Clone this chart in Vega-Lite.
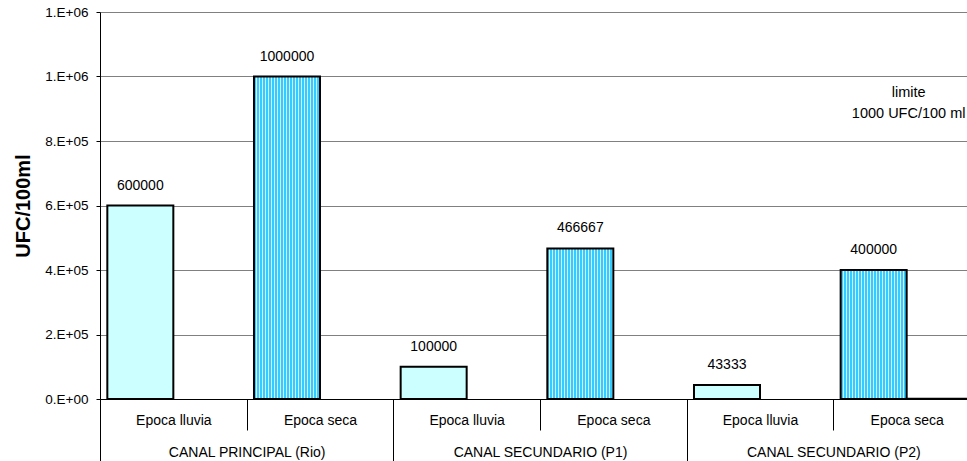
{
  "$schema": "https://vega.github.io/schema/vega-lite/v6.json",
  "autosize": "none",
  "width": 867,
  "height": 387,
  "padding": {"left": 100, "top": 12, "right": 0, "bottom": 62},
  "background": "white",
  "config": {
    "font": "Liberation Sans",
    "view": {"stroke": null},
    "axis": {"labelFont": "Liberation Sans", "titleFont": "Liberation Sans", "labelColor": "black", "titleColor": "black"}
  },
  "datasets": {
    "bars": [
      {"group": "CANAL PRINCIPAL (Rio)", "season": "Epoca lluvia", "sub": "CANAL PRINCIPAL (Rio)|Epoca lluvia", "series": "valor", "value": 600000},
      {"group": "CANAL PRINCIPAL (Rio)", "season": "Epoca seca", "sub": "CANAL PRINCIPAL (Rio)|Epoca seca", "series": "valor", "value": 1000000},
      {"group": "CANAL SECUNDARIO (P1)", "season": "Epoca lluvia", "sub": "CANAL SECUNDARIO (P1)|Epoca lluvia", "series": "valor", "value": 100000},
      {"group": "CANAL SECUNDARIO (P1)", "season": "Epoca seca", "sub": "CANAL SECUNDARIO (P1)|Epoca seca", "series": "valor", "value": 466667},
      {"group": "CANAL SECUNDARIO (P2)", "season": "Epoca lluvia", "sub": "CANAL SECUNDARIO (P2)|Epoca lluvia", "series": "valor", "value": 43333},
      {"group": "CANAL SECUNDARIO (P2)", "season": "Epoca seca", "sub": "CANAL SECUNDARIO (P2)|Epoca seca", "series": "valor", "value": 400000},
      {"group": "CANAL SECUNDARIO (P2)", "season": "Epoca seca", "sub": "CANAL SECUNDARIO (P2)|Epoca seca", "series": "limite", "value": 1000}
    ],
    "note": [
      {"sub": "CANAL SECUNDARIO (P2)|Epoca seca", "value": 937000, "line1": "limite", "line2": "1000 UFC/100 ml"}
    ],
    "groups": [
      {"group": "CANAL PRINCIPAL (Rio)"},
      {"group": "CANAL SECUNDARIO (P1)"},
      {"group": "CANAL SECUNDARIO (P2)"}
    ]
  },
  "layer": [
    {
      "encoding": {
        "x": {
          "field": "sub", "type": "nominal", "sort": null,
          "scale": {"type": "band", "paddingInner": 0, "paddingOuter": 0, "range": [0, 880]},
          "axis": {
            "orient": "bottom", "title": null, "labelAngle": 0, "tickBand": "extent",
            "tickSize": 31, "tickColor": "black", "domainColor": "black", "domainWidth": 1,
            "labelPadding": -17, "labelFontSize": 14, "labelBaseline": "top",
            "labelExpr": "split(datum.value, '|')[1]", "grid": false
          }
        },
        "y": {
          "field": "value", "type": "quantitative", "title": "UFC/100ml",
          "scale": {"domain": [0, 1200000], "nice": false, "zero": true},
          "axis": {
            "values": [0, 200000, 400000, 600000, 800000, 1000000, 1200000],
            "labelExpr": "datum.value == 0 ? '0.E+00' : (datum.value >= 1000000 ? '1.E+06' : (datum.value / 100000) + '.E+05')",
            "labelFontSize": 13.5, "labelPadding": 8, "tickSize": 4, "tickColor": "black",
            "domainColor": "black", "domainWidth": 1,
            "grid": true, "gridColor": "#808080", "gridWidth": 1,
            "titleFontSize": 20, "titleFontWeight": "bold", "titlePadding": 11
          }
        }
      },
      "layer": [
        {
          "data": {"name": "bars"},
          "mark": {"type": "bar", "stroke": "black", "strokeWidth": 2},
          "encoding": {
            "xOffset": {
              "field": "series", "type": "nominal",
              "scale": {"domain": ["valor", "limite"], "paddingInner": 0, "paddingOuter": 0.111}
            },
            "fill": {
              "condition": {
                "test": "datum.season === 'Epoca seca'",
                "value": {
                  "gradient": "linear", "x1": 0, "x2": 1, "y1": 0, "y2": 0,
                  "stops": [
                    {"offset": 0, "color": "#33CCFF"}, {"offset": 0.0303, "color": "#33CCFF"}, {"offset": 0.0303, "color": "#D4F2FF"}, {"offset": 0.04545, "color": "#D4F2FF"},
                    {"offset": 0.04545, "color": "#33CCFF"}, {"offset": 0.07576, "color": "#33CCFF"}, {"offset": 0.07576, "color": "#D4F2FF"}, {"offset": 0.09091, "color": "#D4F2FF"},
                    {"offset": 0.09091, "color": "#33CCFF"}, {"offset": 0.12121, "color": "#33CCFF"}, {"offset": 0.12121, "color": "#D4F2FF"}, {"offset": 0.13636, "color": "#D4F2FF"},
                    {"offset": 0.13636, "color": "#33CCFF"}, {"offset": 0.16667, "color": "#33CCFF"}, {"offset": 0.16667, "color": "#D4F2FF"}, {"offset": 0.18182, "color": "#D4F2FF"},
                    {"offset": 0.18182, "color": "#33CCFF"}, {"offset": 0.21212, "color": "#33CCFF"}, {"offset": 0.21212, "color": "#D4F2FF"}, {"offset": 0.22727, "color": "#D4F2FF"},
                    {"offset": 0.22727, "color": "#33CCFF"}, {"offset": 0.25758, "color": "#33CCFF"}, {"offset": 0.25758, "color": "#D4F2FF"}, {"offset": 0.27273, "color": "#D4F2FF"},
                    {"offset": 0.27273, "color": "#33CCFF"}, {"offset": 0.30303, "color": "#33CCFF"}, {"offset": 0.30303, "color": "#D4F2FF"}, {"offset": 0.31818, "color": "#D4F2FF"},
                    {"offset": 0.31818, "color": "#33CCFF"}, {"offset": 0.34848, "color": "#33CCFF"}, {"offset": 0.34848, "color": "#D4F2FF"}, {"offset": 0.36364, "color": "#D4F2FF"},
                    {"offset": 0.36364, "color": "#33CCFF"}, {"offset": 0.39394, "color": "#33CCFF"}, {"offset": 0.39394, "color": "#D4F2FF"}, {"offset": 0.40909, "color": "#D4F2FF"},
                    {"offset": 0.40909, "color": "#33CCFF"}, {"offset": 0.43939, "color": "#33CCFF"}, {"offset": 0.43939, "color": "#D4F2FF"}, {"offset": 0.45455, "color": "#D4F2FF"},
                    {"offset": 0.45455, "color": "#33CCFF"}, {"offset": 0.48485, "color": "#33CCFF"}, {"offset": 0.48485, "color": "#D4F2FF"}, {"offset": 0.5, "color": "#D4F2FF"},
                    {"offset": 0.5, "color": "#33CCFF"}, {"offset": 0.5303, "color": "#33CCFF"}, {"offset": 0.5303, "color": "#D4F2FF"}, {"offset": 0.54545, "color": "#D4F2FF"},
                    {"offset": 0.54545, "color": "#33CCFF"}, {"offset": 0.57576, "color": "#33CCFF"}, {"offset": 0.57576, "color": "#D4F2FF"}, {"offset": 0.59091, "color": "#D4F2FF"},
                    {"offset": 0.59091, "color": "#33CCFF"}, {"offset": 0.62121, "color": "#33CCFF"}, {"offset": 0.62121, "color": "#D4F2FF"}, {"offset": 0.63636, "color": "#D4F2FF"},
                    {"offset": 0.63636, "color": "#33CCFF"}, {"offset": 0.66667, "color": "#33CCFF"}, {"offset": 0.66667, "color": "#D4F2FF"}, {"offset": 0.68182, "color": "#D4F2FF"},
                    {"offset": 0.68182, "color": "#33CCFF"}, {"offset": 0.71212, "color": "#33CCFF"}, {"offset": 0.71212, "color": "#D4F2FF"}, {"offset": 0.72727, "color": "#D4F2FF"},
                    {"offset": 0.72727, "color": "#33CCFF"}, {"offset": 0.75758, "color": "#33CCFF"}, {"offset": 0.75758, "color": "#D4F2FF"}, {"offset": 0.77273, "color": "#D4F2FF"},
                    {"offset": 0.77273, "color": "#33CCFF"}, {"offset": 0.80303, "color": "#33CCFF"}, {"offset": 0.80303, "color": "#D4F2FF"}, {"offset": 0.81818, "color": "#D4F2FF"},
                    {"offset": 0.81818, "color": "#33CCFF"}, {"offset": 0.84848, "color": "#33CCFF"}, {"offset": 0.84848, "color": "#D4F2FF"}, {"offset": 0.86364, "color": "#D4F2FF"},
                    {"offset": 0.86364, "color": "#33CCFF"}, {"offset": 0.89394, "color": "#33CCFF"}, {"offset": 0.89394, "color": "#D4F2FF"}, {"offset": 0.90909, "color": "#D4F2FF"},
                    {"offset": 0.90909, "color": "#33CCFF"}, {"offset": 0.93939, "color": "#33CCFF"}, {"offset": 0.93939, "color": "#D4F2FF"}, {"offset": 0.95455, "color": "#D4F2FF"},
                    {"offset": 0.95455, "color": "#33CCFF"}, {"offset": 0.98485, "color": "#33CCFF"}, {"offset": 0.98485, "color": "#D4F2FF"}, {"offset": 1, "color": "#D4F2FF"}
                  ]
                }
              },
              "value": "#CCFFFF"
            }
          }
        },
        {
          "data": {"name": "bars"},
          "transform": [{"filter": "datum.series === 'valor'"}],
          "mark": {"type": "text", "fontSize": 14, "dy": -16, "baseline": "alphabetic", "color": "black"},
          "encoding": {
            "xOffset": {
              "field": "series", "type": "nominal",
              "scale": {"domain": ["valor", "limite"], "paddingInner": 0, "paddingOuter": 0.111}
            },
            "text": {"field": "value", "type": "quantitative", "format": "d"}
          }
        },
        {
          "data": {"name": "note"},
          "transform": [{"calculate": "[datum.line1, datum.line2]", "as": "lines"}],
          "mark": {"type": "text", "fontSize": 14.5, "baseline": "alphabetic", "lineHeight": 21, "color": "black", "dx": 2},
          "encoding": {
            "text": {"field": "lines"}
          }
        }
      ]
    },
    {
      "data": {"name": "groups"},
      "mark": {"type": "point", "opacity": 0},
      "encoding": {
        "x": {
          "field": "group", "type": "nominal", "sort": null,
          "scale": {"type": "band", "paddingInner": 0, "paddingOuter": 0, "range": [0, 880]},
          "axis": {
            "orient": "bottom", "title": null, "labelAngle": 0, "tickBand": "extent",
            "tickSize": 62, "tickColor": "black", "domain": false,
            "labelPadding": -16, "labelFontSize": 14, "labelBaseline": "top", "grid": false
          }
        }
      }
    }
  ],
  "resolve": {"scale": {"x": "independent"}, "axis": {"x": "independent"}}
}
